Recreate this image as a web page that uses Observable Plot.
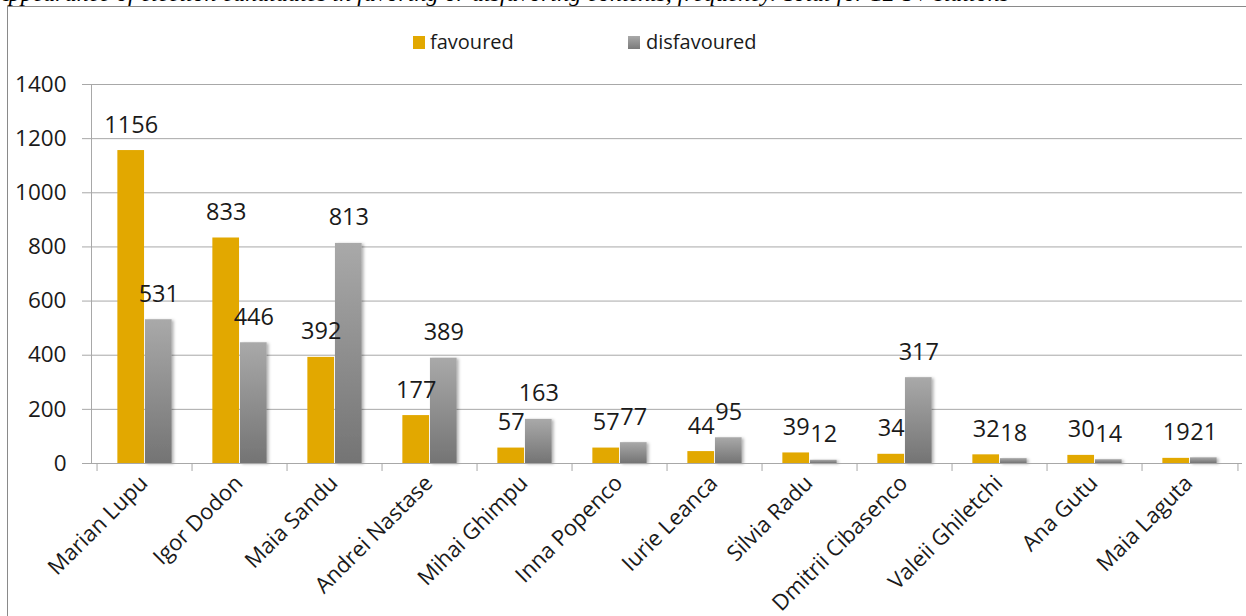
<!DOCTYPE html>
<html>
<head>
<meta charset="utf-8">
<script src="https://cdn.jsdelivr.net/npm/d3@7"></script>
<script src="https://cdn.jsdelivr.net/npm/@observablehq/plot@0.6"></script>
<style>
  html, body { margin: 0; padding: 0; background: #fff; }
  #wrap { position: relative; width: 1246px; height: 616px; overflow: hidden; background: #fff; }
  #title { position: absolute; left: -6px; top: -19px; font-family: "Liberation Serif", serif; font-style: italic; font-size: 24px; line-height: 24px; white-space: nowrap; color: #000; }
  #frame { position: absolute; left: 7px; top: 6px; width: 1400px; height: 800px; border-left: 1px solid #8a8a8a; border-top: 1px solid #8a8a8a; }
  .sw { position: absolute; width: 12px; height: 13px; }
  .lt { position: absolute; font-family: "Open Sans", sans-serif; font-size: 20px; line-height: 20px; color: #1a1a1a; white-space: nowrap; }
  #chart { position: absolute; left: 0; top: 62px; }
</style>
</head>
<body>
<div id="wrap">
  <div id="title"></div>
  <div id="frame"></div>
  <div id="legend"></div>
  <div id="chart"></div>
</div>
<script>
const titleText = "Appearance of election candidates in favoring or disfavoring contexts, frequency. Total for 12 TV stations";
const candidates = ["Marian Lupu", "Igor Dodon", "Maia Sandu", "Andrei Nastase", "Mihai Ghimpu", "Inna Popenco", "Iurie Leanca", "Silvia Radu", "Dmitrii Cibasenco", "Valeii Ghiletchi", "Ana Gutu", "Maia Laguta"];
const favoured =    [1156, 833, 392, 177, 57, 57, 44, 39, 34, 32, 30, 19];
const disfavoured = [531, 446, 813, 389, 163, 77, 95, 12, 317, 18, 14, 21];
const seriesNames = ["favoured", "disfavoured"];
const yTicks = [0, 200, 400, 600, 800, 1000, 1200, 1400];

document.getElementById("title").textContent = titleText;

// legend
const legend = document.getElementById("legend");
const legendItems = [
  {name: seriesNames[0], bg: "#E2A800", sx: 413, tx: 430},
  {name: seriesNames[1], bg: "linear-gradient(#a9a9a9, #7a7a7a)", sx: 628, tx: 646}
];
for (const it of legendItems) {
  const s = document.createElement("div");
  s.className = "sw"; s.style.left = it.sx + "px"; s.style.top = "36px"; s.style.background = it.bg;
  legend.appendChild(s);
  const t = document.createElement("div");
  t.className = "lt"; t.style.left = it.tx + "px"; t.style.top = "32px"; t.textContent = it.name;
  legend.appendChild(t);
}

const rowsF = candidates.map((c, i) => ({c, v: favoured[i]}));
const rowsD = candidates.map((c, i) => ({c, v: disfavoured[i]}));

const W = 1246, H = 554, ml = 91, mr = 4, mt = 22, mb = 153;
const step = (W - ml - mr) / candidates.length;
const barW = 27.6;
const gap = (step - 2 * barW) / 2;
const gridColor = "#a8a8a8";

const plot = Plot.plot({
  width: W, height: H,
  marginLeft: ml, marginRight: mr, marginTop: mt, marginBottom: mb,
  style: {fontFamily: "Open Sans, sans-serif", fontSize: "20px", color: "#1a1a1a", background: "transparent", overflow: "visible"},
  x: {domain: candidates, padding: 0, label: null},
  y: {domain: [0, 1400], label: null},
  marks: [
    Plot.gridY(yTicks, {stroke: gridColor, strokeOpacity: 1}),
    Plot.barY(rowsF, {x: "c", y: "v", fill: "#E2A800", insetLeft: gap, insetRight: step - gap - barW}),
    Plot.barY(rowsD, {x: "c", y: "v", fill: "url(#grayGrad)", insetLeft: gap + barW, insetRight: gap}),
    Plot.frame({anchor: "left", stroke: gridColor, strokeOpacity: 1}),
    Plot.ruleY([0], {stroke: gridColor}),
    Plot.axisY(yTicks, {tickSize: 9, tickPadding: 16, tickFormat: d => String(d), stroke: gridColor, strokeOpacity: 1, fontSize: 22.5, fill: "#1a1a1a"}),
    Plot.ruleX(candidates, {x: d => d, dx: -step / 2, y1: 0, y2: 0, insetBottom: -8, stroke: gridColor}),
    Plot.ruleX(candidates.slice(-1), {x: d => d, dx: step / 2, y1: 0, y2: 0, insetBottom: -8, stroke: gridColor}),
    Plot.axisX({tickSize: 0, tickRotate: -45, tickPadding: 16, fontSize: 22, fill: "#1a1a1a", dx: -1}),
    Plot.text(rowsF, {x: "c", y: "v", text: d => String(d.v), dx: gap + barW / 2 - step / 2, dy: -18, lineAnchor: "bottom", fontSize: 23.5, fill: "#1a1a1a"}),
    Plot.text(rowsD, {x: "c", y: "v", text: d => String(d.v), dx: gap + barW * 1.5 - step / 2, dy: -18, lineAnchor: "bottom", fontSize: 23.5, fill: "#1a1a1a"})
  ]
});

const svg = d3.select(plot);
svg.insert("defs", ":first-child").html(`
  <linearGradient id="grayGrad" x1="0" y1="0" x2="0" y2="1">
    <stop offset="0" stop-color="#a9a9a9"/>
    <stop offset="1" stop-color="#747474"/>
  </linearGradient>
  <filter id="shadow" x="-20%" y="-5%" width="150%" height="115%">
    <feDropShadow dx="2" dy="1" stdDeviation="1.5" flood-color="#000" flood-opacity="0.3"/>
  </filter>`);
svg.selectAll('g[fill="url(#grayGrad)"]').attr("filter", "url(#shadow)");

document.getElementById("chart").appendChild(plot);
</script>
</body>
</html>
